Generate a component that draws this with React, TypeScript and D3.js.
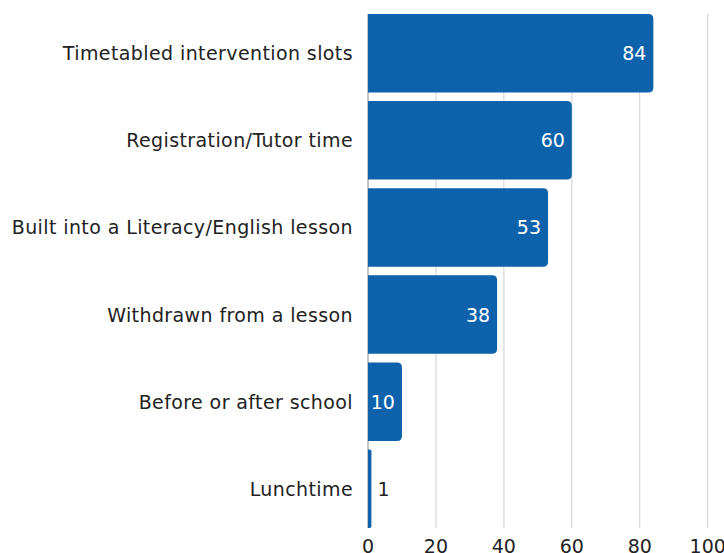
import React from "react";
import * as d3 from "d3";

const categories = [
  "Timetabled intervention slots",
  "Registration/Tutor time",
  "Built into a Literacy/English lesson",
  "Withdrawn from a lesson",
  "Before or after school",
  "Lunchtime",
];
const values = [84, 60, 53, 38, 10, 1];
const ticks = [0, 20, 40, 60, 80, 100];

const W = 724,
  H = 553;
const margin = { top: 14, right: 16, bottom: 25, left: 368 };
const FONT = "'DejaVu Sans', sans-serif";
const BAR = "#0e62ab";

function barPath(x0: number, y0: number, w: number, h: number, r: number) {
  const rr = Math.min(r, w / 2, h / 2);
  return `M${x0},${y0}H${x0 + w - rr}Q${x0 + w},${y0} ${x0 + w},${y0 + rr}V${y0 + h - rr}Q${x0 + w},${y0 + h} ${x0 + w - rr},${y0 + h}H${x0}Z`;
}

export default function App() {
  const x = d3.scaleLinear().domain([0, 100]).range([margin.left, 707.7]);
  const y = d3
    .scaleBand()
    .domain(categories)
    .range([margin.top, 528])
    .paddingInner(0.1)
    .paddingOuter(0);

  return (
    <svg
      width={W}
      height={H}
      style={{ position: "absolute", left: 0, top: 0, fontFamily: FONT }}
    >
      {ticks.map((t) => (
        <line
          key={t}
          x1={x(t)}
          x2={x(t)}
          y1={margin.top}
          y2={528}
          stroke={t === 0 ? "#888" : "#d0d0d0"}
          strokeWidth={1}
        />
      ))}
      {categories.map((c, i) => {
        const v = values[i];
        const y0 = y(c)!;
        const bw = x(v) - x(0);
        const cy = y0 + y.bandwidth() / 2;
        const inside = bw > 30;
        return (
          <g key={c}>
            <path d={barPath(x(0), y0, bw, y.bandwidth(), v < 3 ? 2 : 5)} fill={BAR} />
            <text
              x={margin.left - 15}
              y={cy}
              textAnchor="end"
              dominantBaseline="central"
              fontSize={19}
              letterSpacing={0.4}
              fill="#222"
            >
              {c}
            </text>
            <text
              x={inside ? x(v) - 7 : x(v) + 6}
              y={cy}
              textAnchor={inside ? "end" : "start"}
              dominantBaseline="central"
              fontSize={19}
              fill={inside ? "#fff" : "#222"}
            >
              {v}
            </text>
          </g>
        );
      })}
      {ticks.map((t) => (
        <text
          key={t}
          x={x(t)}
          y={553}
          textAnchor="middle"
          fontSize={19}
          fill="#222"
        >
          {t}
        </text>
      ))}
    </svg>
  );
}
